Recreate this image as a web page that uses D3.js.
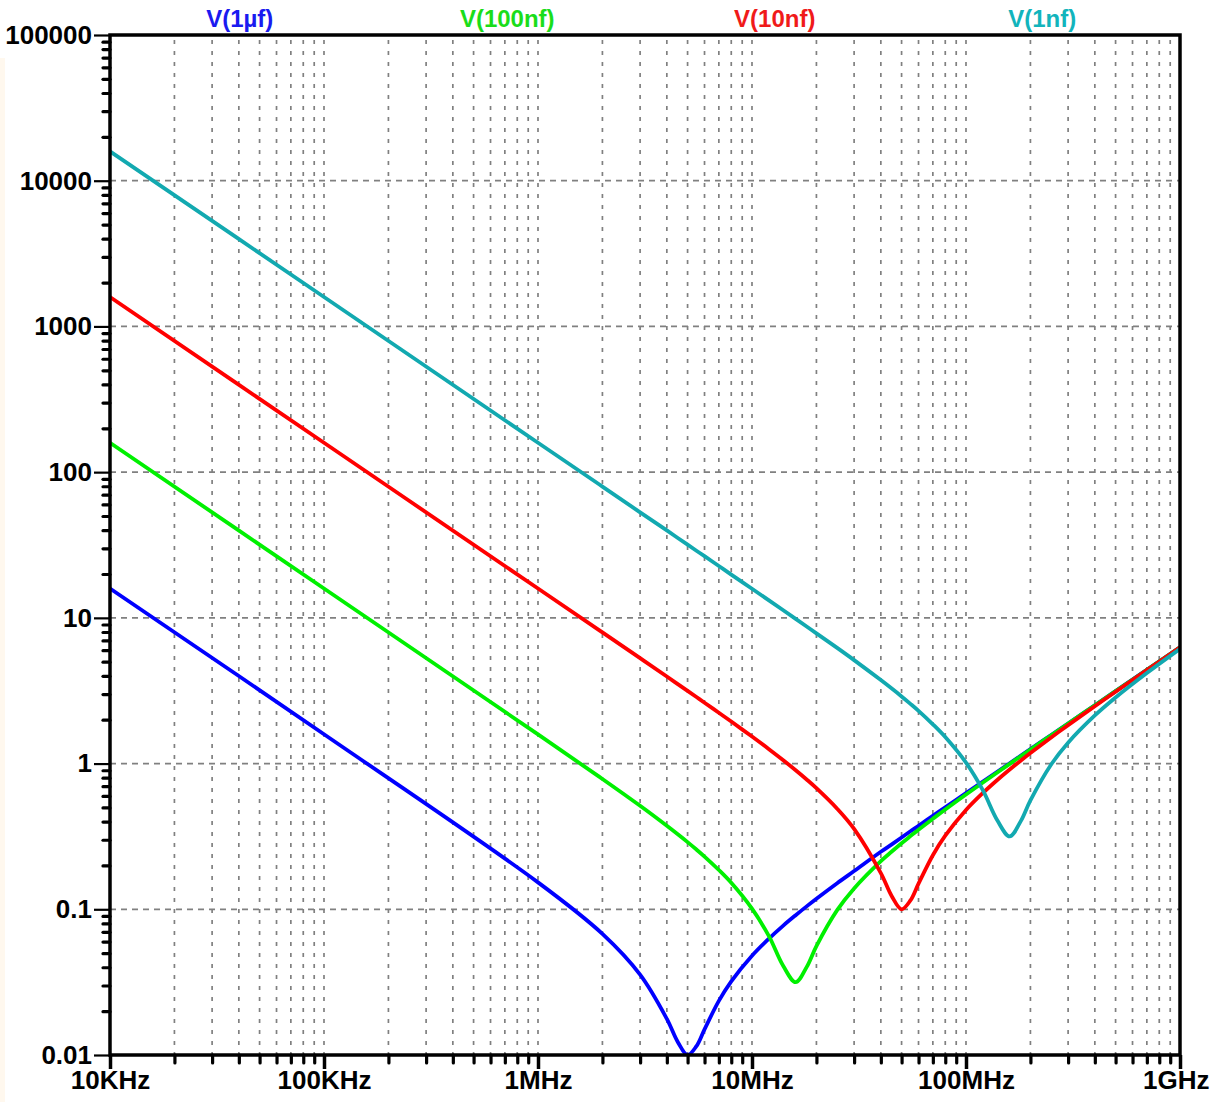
<!DOCTYPE html>
<html>
<head>
<meta charset="utf-8">
<script src="https://cdn.jsdelivr.net/npm/d3@7"></script>
<style>
  html, body { margin: 0; padding: 0; background: #ffffff; }
  svg { display: block; }
</style>
</head>
<body>
<svg id="chart" width="1211" height="1102"></svg>
<script>
// ---- data ----
const freqs = [1e4,1e5,1e6,2e6,3e6,4e6,4.5e6,5e6,5.5e6,6e6,7e6,8e6,1e7,1.2e7,1.4e7,1.6e7,1.8e7,2e7,2.5e7,3e7,4e7,4.5e7,5e7,5.5e7,6e7,7e7,8e7,1e8,1.2e8,1.4e8,1.6e8,1.8e8,2e8,2.5e8,3e8,4e8,5e8,7e8,1e9];
const z1uF   = [15.9,1.59,0.153,0.0678,0.0356,0.0177,0.0123,0.0100,0.0115,0.0150,0.0235,0.0320,0.0480,0.0629,0.0773,0.0911,0.1047,0.1181,0.151,0.183,0.248,0.279,0.311,0.343,0.374,0.438,0.501,0.627,0.753,0.879,1.004,1.130,1.256,1.570,1.884,2.513,3.141,4.398,6.283];
const z100nF = [159,15.9,1.585,0.784,0.513,0.374,0.327,0.289,0.257,0.230,0.186,0.152,0.101,0.0654,0.0408,0.0316,0.0401,0.0559,0.0986,0.139,0.214,0.249,0.284,0.318,0.352,0.418,0.484,0.613,0.741,0.869,0.996,1.123,1.249,1.565,1.880,2.510,3.139,4.396,6.282];
const z10nF  = [1592,159,15.9,7.95,5.29,3.955,3.510,3.153,2.861,2.617,2.232,1.942,1.532,1.255,1.054,0.900,0.778,0.678,0.490,0.356,0.177,0.123,0.100,0.115,0.150,0.235,0.320,0.480,0.629,0.772,0.911,1.047,1.181,1.510,1.835,2.476,3.111,4.377,6.268];
const z1nF   = [15900,1592,159,79.6,53.0,39.8,35.3,31.8,28.9,26.5,22.7,19.8,15.85,13.19,11.28,9.85,8.73,7.83,6.22,5.13,3.74,3.27,2.89,2.57,2.30,1.86,1.52,1.014,0.654,0.408,0.316,0.401,0.559,0.986,1.391,2.139,2.841,4.183,6.132];

const seriesNames = ["V(1µf)", "V(100nf)", "V(10nf)", "V(1nf)"];
const seriesValues = [z1uF, z100nF, z10nF, z1nF];
const seriesColors = ["#0000ff", "#00f000", "#ff0000", "#12a9b0"];
const labelColors  = ["#1a1af0", "#1add1a", "#f01a1a", "#12b4bc"];

const xTickValues = [1e4, 1e5, 1e6, 1e7, 1e8, 1e9];
const xTickLabels = ["10KHz", "100KHz", "1MHz", "10MHz", "100MHz", "1GHz"];
const yTickValues = [0.01, 0.1, 1, 10, 100, 1000, 10000, 100000];
const yTickLabels = ["0.01", "0.1", "1", "10", "100", "1000", "10000", "100000"];

// ---- layout ----
const L = 110, R = 1180, T = 35, B = 1055;
const svg = d3.select("#chart");

svg.append("rect").attr("x", 0).attr("y", 58).attr("width", 5).attr("height", 1044).attr("fill", "#fff8ee");

const x = d3.scaleLog().domain([1e4, 1e9]).range([L, R]);
const y = d3.scaleLog().domain([0.01, 1e5]).range([B, T]);

function minorsOf(majors) {
  const out = [];
  for (let i = 0; i < majors.length - 1; i++)
    for (let m = 2; m <= 9; m++) out.push(majors[i] * m);
  return out;
}
const xMinor = minorsOf(xTickValues);
const yMinor = minorsOf(yTickValues);

// grid
const grid = svg.append("g").attr("stroke", "#808080").attr("stroke-width", 1.7).attr("fill", "none");
xMinor.concat(xTickValues.slice(1, -1)).forEach(v => {
  grid.append("line").attr("x1", x(v)).attr("x2", x(v)).attr("y1", T + 2).attr("y2", B)
    .attr("stroke-dasharray", "4,7").attr("stroke-dashoffset", -3);
});
yTickValues.slice(1, -1).forEach(v => {
  grid.append("line").attr("x1", L).attr("x2", R).attr("y1", y(v)).attr("y2", y(v))
    .attr("stroke-dasharray", "6,5");
});

// curves
svg.append("clipPath").attr("id", "clip").append("rect")
  .attr("x", L).attr("y", T).attr("width", R - L).attr("height", B - T);
const line = d3.line()
  .x(d => x(d[0])).y(d => y(d[1]))
  .curve(d3.curveCatmullRom.alpha(0.5));
const curves = svg.append("g").attr("clip-path", "url(#clip)");
seriesValues.forEach((vals, i) => {
  curves.append("path")
    .datum(freqs.map((f, k) => [f, vals[k]]))
    .attr("d", line)
    .attr("fill", "none")
    .attr("stroke", seriesColors[i])
    .attr("stroke-width", 3.8)
    .attr("stroke-linejoin", "round");
});

// axes: minor ticks
const xMinorAxis = svg.append("g").attr("transform", `translate(0,${B})`)
  .call(d3.axisBottom(x).tickValues(xMinor).tickSize(8).tickFormat(""));
xMinorAxis.select(".domain").remove();
xMinorAxis.selectAll("line").attr("stroke", "#000").attr("stroke-width", 3.2).attr("stroke-linecap", "round");

const yMinorAxis = svg.append("g").attr("transform", `translate(${L},0)`)
  .call(d3.axisLeft(y).tickValues(yMinor).tickSize(7).tickFormat(""));
yMinorAxis.select(".domain").remove();
yMinorAxis.selectAll("line").attr("stroke", "#000").attr("stroke-width", 3.2).attr("stroke-linecap", "round");

// major axes with labels
const xAxis = svg.append("g").attr("transform", `translate(0,${B})`)
  .call(d3.axisBottom(x).tickValues(xTickValues).tickSize(14).tickPadding(2)
    .tickFormat((d, i) => xTickLabels[i]));
xAxis.select(".domain").remove();
xAxis.selectAll("line").attr("stroke", "#000").attr("stroke-width", 3.5);
xAxis.selectAll("text")
  .attr("fill", "#000")
  .style("font-family", "'Liberation Sans', Arial, sans-serif")
  .style("font-weight", "bold").style("font-size", "26px");
// keep the last label inside the picture, as in the reference
xAxis.selectAll(".tick").filter(d => d === 1e9).select("text")
  .attr("text-anchor", "end").attr("x", 29);

const yAxis = svg.append("g").attr("transform", `translate(${L},0)`)
  .call(d3.axisLeft(y).tickValues(yTickValues).tickSize(16).tickPadding(2)
    .tickFormat((d, i) => yTickLabels[i]));
yAxis.select(".domain").remove();
yAxis.selectAll("line").attr("stroke", "#000").attr("stroke-width", 2.2);
yAxis.selectAll("text")
  .attr("fill", "#000")
  .style("font-family", "'Liberation Sans', Arial, sans-serif")
  .style("font-weight", "bold").style("font-size", "26px");

// frame
svg.append("rect").attr("x", L).attr("y", T).attr("width", R - L).attr("height", B - T)
  .attr("fill", "none").attr("stroke", "#000").attr("stroke-width", 3.5);

// legend labels across the top
const legendX = d3.scaleBand().domain(seriesNames).range([L, R]);
svg.append("g").selectAll("text").data(seriesNames).join("text")
  .attr("x", d => legendX(d) + legendX.bandwidth() / 2 - 4)
  .attr("y", 27)
  .attr("text-anchor", "middle")
  .attr("fill", (d, i) => labelColors[i])
  .style("font-family", "'Liberation Sans', Arial, sans-serif")
  .style("font-weight", "bold").style("font-size", "24px")
  .text(d => d);
</script>
</body>
</html>
